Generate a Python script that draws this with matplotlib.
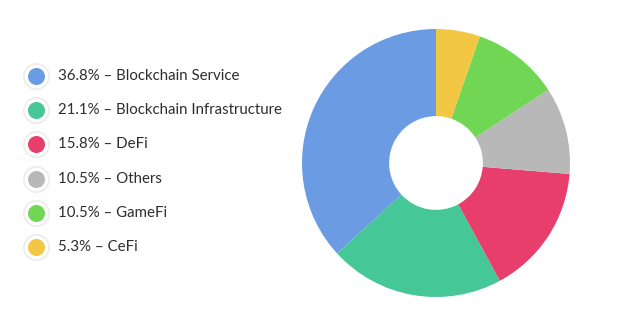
import matplotlib

matplotlib.use("Agg")
import matplotlib.pyplot as plt

# Daten
categories = ["Blockchain Service", "Blockchain Infrastructure", "DeFi",
              "Others", "GameFi", "CeFi"]
shares = [36.8, 21.1, 15.8, 10.5, 10.5, 5.3]
colors = ["#6A9BE3", "#45C797", "#E83E6B", "#B8B8B8", "#72D655", "#F2C744"]

plt.rcParams["font.family"] = ["Lato", "DejaVu Sans"]

fig = plt.figure(figsize=(6.2, 3.33), dpi=100)
fig.patch.set_facecolor("white")

# Donut
ax = fig.add_axes([302 / 620, 36 / 333, 268 / 620, 268 / 333])
ax.pie(shares, colors=colors, startangle=90, counterclock=True,
       wedgeprops=dict(width=0.65, linewidth=0))
ax.set_xlim(-1, 1)
ax.set_ylim(-1, 1)
ax.set_aspect("equal")

# Legende (links)
lax = fig.add_axes([0, 0, 1, 1])
lax.set_xlim(0, 620)
lax.set_ylim(333, 0)
lax.axis("off")
y0, dy = 76, 34.2
for i, (cat, val, col) in enumerate(zip(categories, shares, colors)):
    y = y0 + i * dy
    lax.scatter([36], [y], s=330, color="white", edgecolor="#ECECEC", linewidth=1.2, zorder=1)
    lax.scatter([36], [y], s=150, color=col, linewidth=0, zorder=2)
    lax.text(58, y, f"{val}% – {cat}", fontsize=10.8, color="#2E2E2E", va="center", ha="left")

fig.savefig("out.png", dpi=100)
